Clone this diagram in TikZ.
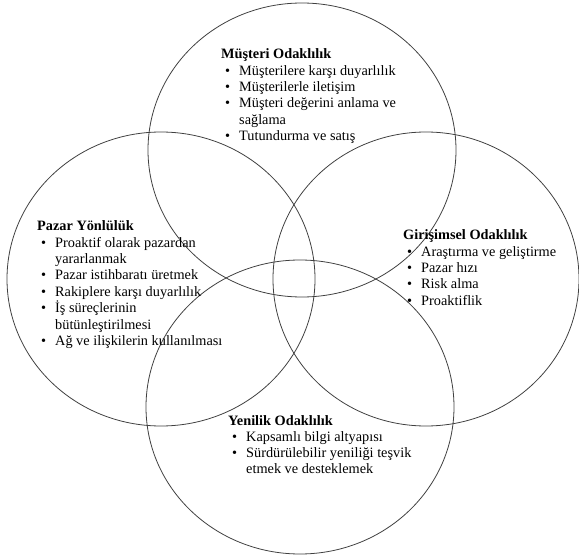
\documentclass[tikz,border=0pt]{standalone}
\usepackage{fontspec}
\setmainfont{Liberation Serif}
\usepackage{tikz}
\usetikzlibrary{positioning}

\newcommand{\madde}{\hspace*{4pt}\makebox[14pt][l]{\textbullet}}
\newcommand{\devam}{\hspace*{18pt}}
\tikzset{
  halka/.style={draw=black!75, line width=0.8pt},
  liste/.style={anchor=base west, inner sep=0pt, font=\fontsize{14.3}{16.3}\selectfont}
}

\begin{document}
\begin{tikzpicture}[x=1pt,y=-1pt]
	  \useasboundingbox (0,0) rectangle (579,556);
	  % Centres of the four ellipses
	  \coordinate (ust) at (302,150);
	  \coordinate (sol) at (161,279);
	  \coordinate (sag) at (426,279);
	  \coordinate (alt) at (300,407);
	  % Draw the ellipses
	  \draw [halka] (ust) ellipse (154 and 147);
	  \draw [halka] (sol) ellipse (154 and 147);
	  \draw [halka] (sag) ellipse (153 and 147);
	  \draw [halka] (alt) ellipse (154 and 147);
	  % Lists inside the ellipses
	  \node (musteri) [liste] at (221,59) {\begin{tabular}[t]{@{}l@{}}
	      \textbf{Müşteri Odaklılık}\\
	      \madde Müşterilere karşı duyarlılık\\
	      \madde Müşterilerle iletişim\\
	      \madde Müşteri değerini anlama ve\\
	      \devam sağlama\\
	      \madde Tutundurma ve satış
	    \end{tabular}};
	  \node (pazar) [liste] at (37,231) {\begin{tabular}[t]{@{}l@{}}
	      \textbf{Pazar Yönlülük}\\
	      \madde Proaktif olarak pazardan\\
	      \devam yararlanmak\\
	      \madde Pazar istihbaratı üretmek\\
	      \madde Rakiplere karşı duyarlılık\\
	      \madde İş süreçlerinin\\
	      \devam bütünleştirilmesi\\
	      \madde Ağ ve ilişkilerin kullanılması
	    \end{tabular}};
	  \node (girisim) [liste] at (403,240) {\begin{tabular}[t]{@{}l@{}}
	      \textbf{Girişimsel Odaklılık}\\
	      \madde Araştırma ve geliştirme\\
	      \madde Pazar hızı\\
	      \madde Risk alma\\
	      \madde Proaktiflik
	    \end{tabular}};
	  \node (yenilik) [liste] at (228,425) {\begin{tabular}[t]{@{}l@{}}
	      \textbf{Yenilik Odaklılık}\\
	      \madde Kapsamlı bilgi altyapısı\\
	      \madde Sürdürülebilir yeniliği teşvik\\
	      \devam etmek ve desteklemek
	    \end{tabular}};
\end{tikzpicture}
\end{document}
